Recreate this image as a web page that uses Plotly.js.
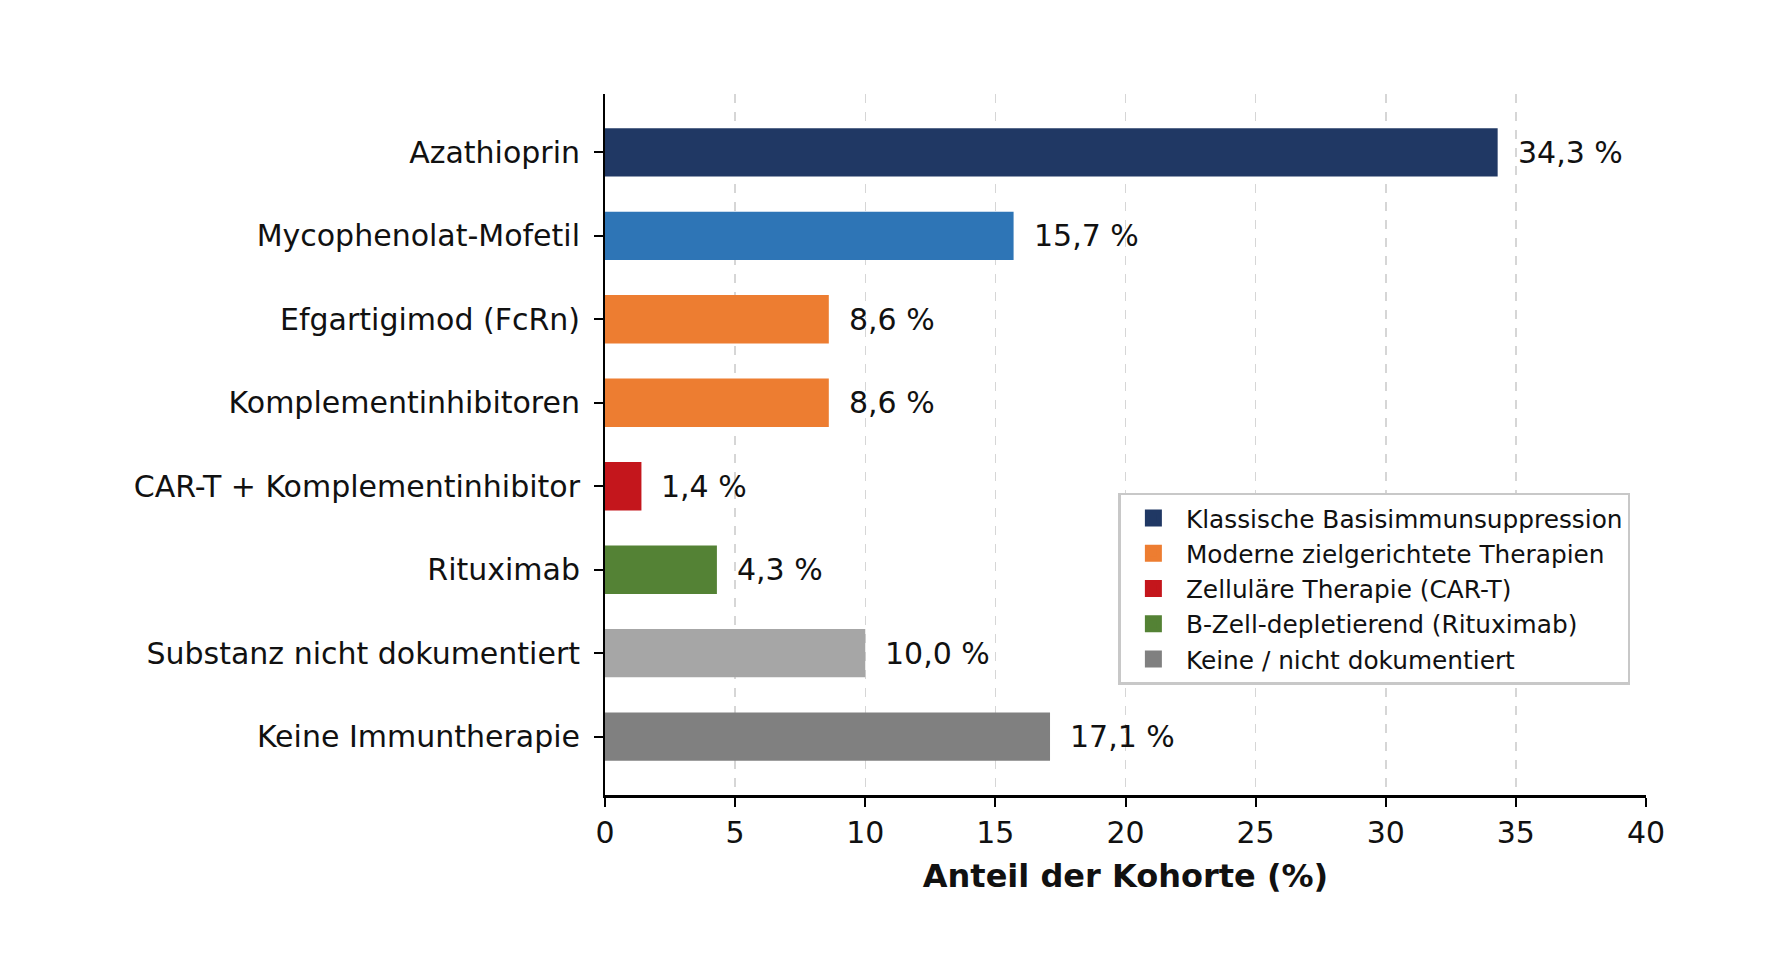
<!DOCTYPE html>
<html>
<head>
<meta charset="utf-8">
<script src="https://cdn.plot.ly/plotly-3.0.1.min.js"></script>
<style>
  html, body { margin: 0; padding: 0; background: #fff; }
  #chart { width: 1771px; height: 955px; }
</style>
</head>
<body>
<div id="chart"></div>
<script>
// Therapien und Anteil der Kohorte (%)
const therapies = [
  "Azathioprin",
  "Mycophenolat-Mofetil",
  "Efgartigimod (FcRn)",
  "Komplementinhibitoren",
  "CAR-T + Komplementinhibitor",
  "Rituximab",
  "Substanz nicht dokumentiert",
  "Keine Immuntherapie"
];
const shares = [34.3, 15.7, 8.6, 8.6, 1.4, 4.3, 10.0, 17.1];
const barColors = ["#203864", "#2e75b6", "#ed7d31", "#ed7d31", "#c4161c", "#548235", "#a6a6a6", "#808080"];

// Legende (Gruppen)
const groupNames = [
  "Klassische Basisimmunsuppression",
  "Moderne zielgerichtete Therapien",
  "Zelluläre Therapie (CAR-T)",
  "B-Zell-depletierend (Rituximab)",
  "Keine / nicht dokumentiert"
];
const groupColors = ["#203864", "#ed7d31", "#c4161c", "#548235", "#808080"];

const xTicks = [0, 5, 10, 15, 20, 25, 30, 35, 40];

const fmt = (v) => v.toFixed(1).replace(".", ",") + " %";

const traces = [
  {
    type: "bar",
    orientation: "h",
    x: shares,
    y: therapies,
    width: 0.58,
    marker: { color: barColors, line: { width: 0 } },
    showlegend: false,
    hoverinfo: "x+y"
  }
];

// nur fuer die Legende
groupNames.forEach((name, i) => {
  traces.push({
    type: "bar",
    orientation: "h",
    x: [null],
    y: [null],
    name: name,
    marker: { color: groupColors[i], line: { color: groupColors[i], width: 5 } },
    showlegend: true
  });
});

const annotations = shares.map((v, i) => ({
  x: v,
  y: therapies[i],
  xref: "x",
  yref: "y",
  text: fmt(v),
  showarrow: false,
  xanchor: "left",
  yanchor: "middle",
  xshift: 18,
  font: { family: "DejaVu Sans", size: 30, color: "#111" }
}));

const layout = {
  width: 1771,
  height: 955,
  margin: { l: 605, r: 125, t: 94, b: 160 },
  paper_bgcolor: "#fff",
  plot_bgcolor: "#fff",
  font: { family: "DejaVu Sans", size: 30, color: "#111" },
  barmode: "overlay",
  xaxis: {
    range: [0, 40],
    tickvals: xTicks,
    ticks: "outside",
    ticklen: 9,
    tickwidth: 2,
    tickcolor: "#000",
    showline: true,
    linecolor: "#000",
    linewidth: 2.5,
    showgrid: true,
    gridcolor: "#d6d6d6",
    gridwidth: 1.5,
    griddash: "dash",
    zeroline: false,
    tickfont: { size: 30 },
    title: {
      text: "<b>Anteil der Kohorte (%)</b>",
      font: { size: 32 },
      standoff: 16
    }
  },
  yaxis: {
    type: "category",
    categoryorder: "array",
    categoryarray: therapies,
    range: [7.7, -0.7],
    ticks: "outside",
    ticklen: 9,
    tickwidth: 2,
    tickcolor: "#000",
    showline: true,
    linecolor: "#000",
    linewidth: 2,
    showgrid: false,
    zeroline: false,
    ticklabelstandoff: 8,
    tickfont: { size: 30 }
  },
  legend: {
    x: 0.985,
    xanchor: "right",
    y: 0.157,
    yanchor: "bottom",
    bgcolor: "#fff",
    bordercolor: "#c8c8c8",
    borderwidth: 2.5,
    itemwidth: 55,
    font: { size: 24.8, color: "#111" },
    traceorder: "normal"
  },
  annotations: annotations
};

Plotly.newPlot("chart", traces, layout, { displayModeBar: false, staticPlot: true });
</script>
</body>
</html>
